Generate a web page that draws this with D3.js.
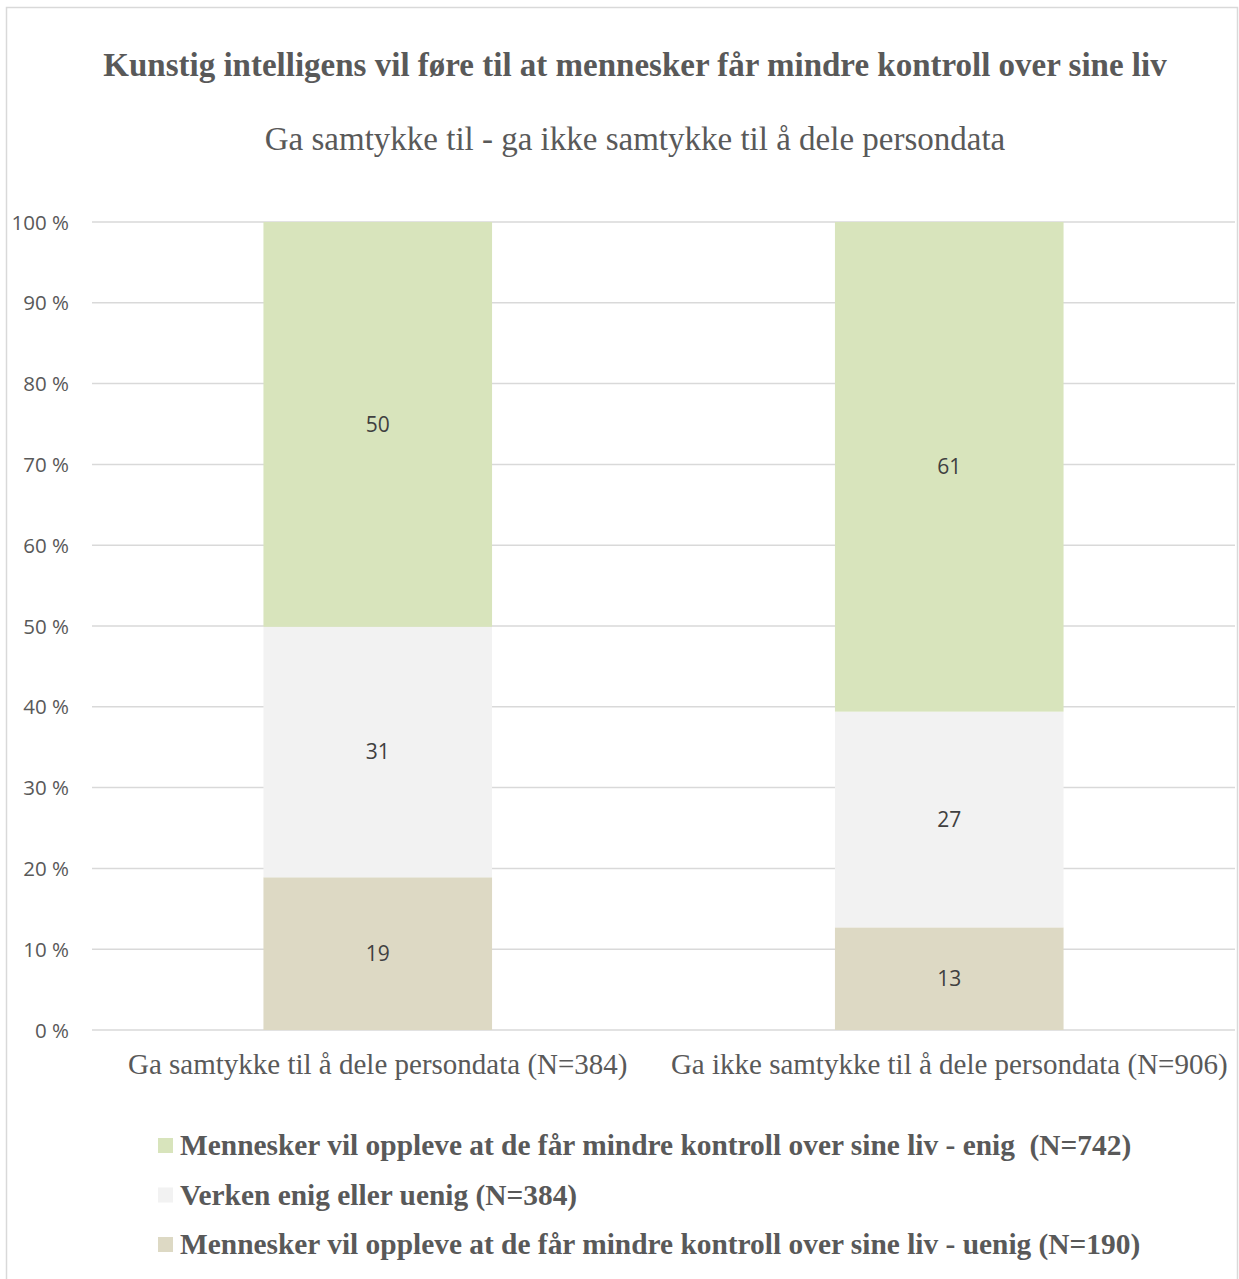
<!DOCTYPE html>
<html>
<head>
<meta charset="utf-8">
<script src="https://cdn.jsdelivr.net/npm/d3@7"></script>
<style>
  html, body { margin: 0; padding: 0; background: #fff; }
  svg { display: block; }
</style>
</head>
<body>
<script>
const titleText = "Kunstig intelligens vil føre til at mennesker får mindre kontroll over sine liv";
const subtitleText = "Ga samtykke til - ga ikke samtykke til å dele persondata";
const categories = [
  "Ga samtykke til å dele persondata (N=384)",
  "Ga ikke samtykke til å dele persondata (N=906)"
];
const seriesNames = [
  "Mennesker vil oppleve at de får mindre kontroll over sine liv - uenig (N=190)",
  "Verken enig eller uenig (N=384)",
  "Mennesker vil oppleve at de får mindre kontroll over sine liv - enig  (N=742)"
];
const uenigValues = [18.9, 12.7];
const verkenValues = [31.0, 26.7];
const enigValues = [50.1, 60.6];
const seriesColors = ["#ddd9c4", "#f2f2f2", "#d8e4bc"];
const yTicks = [0, 10, 20, 30, 40, 50, 60, 70, 80, 90, 100];

const W = 1239, H = 1279;
const svg = d3.select("body").append("svg").attr("width", W).attr("height", H);

// chart border
svg.append("rect")
  .attr("x", 6.5).attr("y", 7.5).attr("width", 1231).attr("height", 1300)
  .attr("fill", "#fff").attr("stroke", "#d9d9d9").attr("stroke-width", 1.5);

const textColor = "#595959";
const serif = "'Liberation Serif', 'Times New Roman', serif";
const sans = "'Open Sans', 'Liberation Sans', sans-serif";

svg.append("text").attr("x", 635).attr("y", 76)
  .attr("text-anchor", "middle").attr("font-family", serif)
  .attr("font-weight", "bold").attr("font-size", 33).attr("fill", textColor)
  .text(titleText);

svg.append("text").attr("x", 635).attr("y", 150)
  .attr("text-anchor", "middle").attr("font-family", serif)
  .attr("font-size", 33).attr("fill", textColor)
  .text(subtitleText);

const plot = { left: 92, right: 1235, top: 222, bottom: 1030 };

const x = d3.scaleBand().domain(categories)
  .range([plot.left, plot.right]).paddingInner(0.6).paddingOuter(0.3);
const y = d3.scaleLinear().domain([0, 100]).range([plot.bottom, plot.top]);

// gridlines
svg.append("g").selectAll("line").data(yTicks).join("line")
  .attr("x1", plot.left).attr("x2", plot.right)
  .attr("y1", d => y(d)).attr("y2", d => y(d))
  .attr("stroke", "#d9d9d9").attr("stroke-width", 1.5);

// y axis labels
const yAxis = d3.axisLeft(y).tickValues(yTicks).tickSize(0).tickPadding(0)
  .tickFormat(d => d + " %");
const gy = svg.append("g").attr("transform", `translate(69,0)`).call(yAxis);
gy.select(".domain").remove();
gy.selectAll("text").attr("font-family", sans).attr("font-size", 20.5)
  .attr("fill", textColor).attr("dy", "0.35em");

// stacked data
const rows = categories.map((c, i) => ({
  cat: c, s0: uenigValues[i], s1: verkenValues[i], s2: enigValues[i]
}));
const keys = ["s0", "s1", "s2"];
const stack = d3.stack().keys(keys);
const stacked = stack(rows);

const layers = svg.append("g").selectAll("g").data(stacked).join("g")
  .attr("fill", (d, i) => seriesColors[i]);
layers.selectAll("rect").data(d => d).join("rect")
  .attr("x", d => x(d.data.cat))
  .attr("width", x.bandwidth())
  .attr("y", d => y(d[1]))
  .attr("height", d => y(d[0]) - y(d[1]));

// data labels
const lblG = svg.append("g");
stacked.forEach(layer => {
  layer.forEach(d => {
    lblG.append("text")
      .attr("x", x(d.data.cat) + x.bandwidth() / 2)
      .attr("y", (y(d[0]) + y(d[1])) / 2)
      .attr("dy", "0.35em")
      .attr("text-anchor", "middle")
      .attr("font-family", sans).attr("font-size", 21)
      .attr("fill", "#404040")
      .text(Math.round(d.data[layer.key]));
  });
});

// x axis labels
const xAxis = d3.axisBottom(x).tickSize(0).tickPadding(0);
const gx = svg.append("g").attr("transform", `translate(0,${plot.bottom})`).call(xAxis);
gx.select(".domain").remove();
gx.selectAll("text").attr("font-family", serif).attr("font-size", 29)
  .attr("fill", textColor).attr("dy", null).attr("y", 44);

// legend (top to bottom: enig, verken, uenig)
const legendOrder = [2, 1, 0];
const lg = svg.append("g");
legendOrder.forEach((si, k) => {
  const yy = 1145 + k * 49.5;
  lg.append("rect").attr("x", 158).attr("y", yy - 7).attr("width", 15).attr("height", 15)
    .attr("fill", seriesColors[si]);
  lg.append("text").attr("x", 180).attr("y", yy).attr("dy", "0.35em")
    .attr("font-family", serif).attr("font-weight", "bold").attr("font-size", 29.4)
    .attr("fill", textColor).attr("xml:space", "preserve").style("white-space", "pre")
    .text(seriesNames[si]);
});
</script>
</body>
</html>
